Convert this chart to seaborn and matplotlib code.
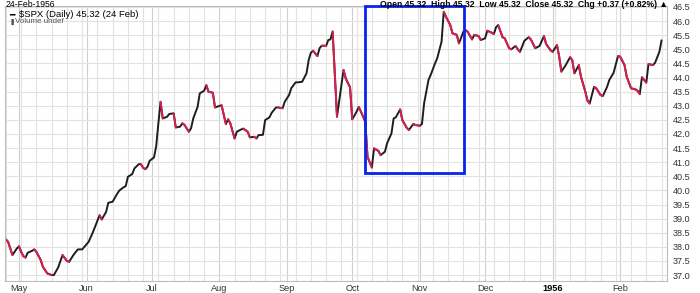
import numpy as np
import pandas as pd
import matplotlib
matplotlib.use("Agg")
import matplotlib.pyplot as plt
import matplotlib.dates as mdates
from matplotlib.patches import Rectangle
import seaborn as sns

# ---------------- data ----------------
dates = [
    "1955-04-25", "1955-04-26", "1955-04-28", "1955-04-30", "1955-05-01", "1955-05-02", "1955-05-03",
    "1955-05-04", "1955-05-05", "1955-05-07", "1955-05-08", "1955-05-09", "1955-05-11", "1955-05-12",
    "1955-05-14", "1955-05-16", "1955-05-17", "1955-05-19", "1955-05-21", "1955-05-23", "1955-05-24",
    "1955-05-26", "1955-05-28", "1955-05-30", "1955-05-31", "1955-06-02", "1955-06-04", "1955-06-07",
    "1955-06-08", "1955-06-10", "1955-06-11", "1955-06-13", "1955-06-15", "1955-06-16", "1955-06-18",
    "1955-06-19", "1955-06-20", "1955-06-22", "1955-06-23", "1955-06-25", "1955-06-26", "1955-06-27",
    "1955-06-28", "1955-06-29", "1955-06-30", "1955-07-02", "1955-07-03", "1955-07-04", "1955-07-05",
    "1955-07-06", "1955-07-08", "1955-07-09", "1955-07-11", "1955-07-12", "1955-07-14", "1955-07-15",
    "1955-07-16", "1955-07-18", "1955-07-19", "1955-07-20", "1955-07-22", "1955-07-23", "1955-07-25",
    "1955-07-26", "1955-07-27", "1955-07-29", "1955-07-30", "1955-08-02", "1955-08-04", "1955-08-05",
    "1955-08-06", "1955-08-08", "1955-08-09", "1955-08-11", "1955-08-12", "1955-08-14", "1955-08-15",
    "1955-08-17", "1955-08-18", "1955-08-19", "1955-08-21", "1955-08-22", "1955-08-24", "1955-08-25",
    "1955-08-27", "1955-08-28", "1955-08-30", "1955-08-31", "1955-09-02", "1955-09-03", "1955-09-05",
    "1955-09-06", "1955-09-08", "1955-09-10", "1955-09-11", "1955-09-12", "1955-09-13", "1955-09-15",
    "1955-09-16", "1955-09-17", "1955-09-19", "1955-09-20", "1955-09-21", "1955-09-22", "1955-09-24",
    "1955-09-27", "1955-09-28", "1955-09-30", "1955-10-01", "1955-10-03", "1955-10-04", "1955-10-05",
    "1955-10-07", "1955-10-08", "1955-10-10", "1955-10-11", "1955-10-13", "1955-10-14", "1955-10-16",
    "1955-10-17", "1955-10-19", "1955-10-20", "1955-10-21", "1955-10-23", "1955-10-24", "1955-10-26",
    "1955-10-27", "1955-10-29", "1955-10-30", "1955-11-01", "1955-11-02", "1955-11-03", "1955-11-05",
    "1955-11-06", "1955-11-08", "1955-11-09", "1955-11-11", "1955-11-12", "1955-11-13", "1955-11-15",
    "1955-11-16", "1955-11-18", "1955-11-19", "1955-11-21", "1955-11-22", "1955-11-23", "1955-11-25",
    "1955-11-26", "1955-11-28", "1955-11-29", "1955-12-01", "1955-12-02", "1955-12-04", "1955-12-05",
    "1955-12-06", "1955-12-07", "1955-12-09", "1955-12-10", "1955-12-12", "1955-12-13", "1955-12-15",
    "1955-12-16", "1955-12-17", "1955-12-19", "1955-12-21", "1955-12-22", "1955-12-24", "1955-12-26",
    "1955-12-28", "1955-12-29", "1955-12-31", "1956-01-01", "1956-01-03", "1956-01-04", "1956-01-05",
    "1956-01-07", "1956-01-09", "1956-01-10", "1956-01-11", "1956-01-13", "1956-01-14", "1956-01-16",
    "1956-01-17", "1956-01-18", "1956-01-20", "1956-01-21", "1956-01-23", "1956-01-24", "1956-01-26",
    "1956-01-27", "1956-01-29", "1956-01-31", "1956-02-01", "1956-02-03", "1956-02-04", "1956-02-06",
    "1956-02-08", "1956-02-09", "1956-02-10", "1956-02-11", "1956-02-13", "1956-02-14", "1956-02-16",
    "1956-02-17", "1956-02-19", "1956-02-20",
]
closes = [
    38.26, 38.18, 37.71, 37.94, 38.02, 37.82, 37.67,
    37.62, 37.79, 37.86, 37.91, 37.82, 37.53, 37.29,
    37.06, 37.00, 37.00, 37.27, 37.71, 37.50, 37.47,
    37.71, 37.91, 37.91, 38.00, 38.18, 38.53, 39.12,
    38.97, 39.24, 39.56, 39.60, 39.87, 39.99, 40.11,
    40.15, 40.48, 40.58, 40.78, 40.93, 40.93, 40.80,
    40.75, 40.84, 41.05, 41.17, 41.57, 42.38, 43.14,
    42.55, 42.61, 42.71, 42.73, 42.23, 42.26, 42.38,
    42.32, 42.08, 42.20, 42.55, 42.96, 43.44, 43.53,
    43.73, 43.50, 43.46, 42.94, 43.02, 42.35, 42.52,
    42.38, 41.84, 42.08, 42.16, 42.19, 42.08, 41.88,
    41.90, 41.84, 41.96, 41.97, 42.49, 42.59, 42.75,
    42.94, 42.94, 42.91, 43.14, 43.38, 43.62, 43.83,
    43.83, 43.85, 44.15, 44.62, 44.88, 44.95, 44.76,
    45.04, 45.13, 45.12, 45.33, 45.35, 45.63, 42.61,
    44.27, 43.97, 43.65, 42.52, 42.79, 42.96, 42.79,
    42.43, 41.19, 40.81, 41.49, 41.40, 41.25, 41.37,
    41.67, 42.02, 42.55, 42.59, 42.87, 42.49, 42.22,
    42.14, 42.35, 42.32, 42.29, 42.35, 43.09, 43.91,
    44.09, 44.50, 44.68, 45.27, 46.33, 46.16, 45.86,
    45.57, 45.51, 45.21, 45.62, 45.68, 45.62, 45.35,
    45.51, 45.47, 45.33, 45.39, 45.66, 45.59, 45.54,
    45.78, 45.86, 45.43, 45.39, 45.04, 45.00, 45.12,
    45.00, 44.91, 45.30, 45.43, 45.35, 45.04, 45.12,
    45.47, 45.19, 44.97, 44.91, 45.15, 44.74, 44.21,
    44.44, 44.72, 44.62, 44.15, 44.44, 44.03, 43.50,
    43.18, 43.08, 43.67, 43.62, 43.38, 43.34, 43.67,
    43.91, 44.17, 44.76, 44.74, 44.44, 44.03, 43.62,
    43.58, 43.53, 43.41, 44.01, 43.82, 44.48, 44.44,
    44.52, 44.91, 45.32,
]
month_ticks = ["1955-05-01", "1955-06-01", "1955-07-01", "1955-08-01", "1955-09-01",
               "1955-10-01", "1955-11-01", "1955-12-01", "1956-01-01", "1956-02-01"]
month_labels = ["May", "Jun", "Jul", "Aug", "Sep", "Oct", "Nov", "Dec", "1956", "Feb"]
price_ticks = [37.0, 37.5, 38.0, 38.5, 39.0, 39.5, 40.0, 40.5, 41.0, 41.5,
               42.0, 42.5, 43.0, 43.5, 44.0, 44.5, 45.0, 45.5, 46.0, 46.5]
box_start, box_end = "1955-10-07", "1955-11-21 12:00"
box_low, box_high = 40.63, 46.52
x_range = ("1955-04-24 14:00", "1956-02-22 12:00")
y_range = (36.79, 46.535)

legend_text = "\\$SPX (Daily) 45.32 (24 Feb)"
volume_text = "Volume undef"
header_left = "24-Feb-1956"
header_right = "Open 45.32  High 45.32  Low 45.32  Close 45.32  Chg +0.37 (+0.82%) \u25B2"

# ---------------- styling ----------------
sns.set_style("white")
plt.rcParams["font.family"] = ["Liberation Sans", "DejaVu Sans"]

RED = "#d81f4f"
BLACK = "#1e1e1e"
BLUE = "#0a22f0"
GRID = "#e2e2e2"
GRID_M = "#cfcfcf"
TXT = "#333333"

df = pd.DataFrame({"date": pd.to_datetime(dates), "close": closes})
down = np.where(df["close"].diff() < 0)[0]
rows = []
for i in down:
    rows.append({"date": df["date"].iloc[i - 1], "close": df["close"].iloc[i - 1], "seg": int(i)})
    rows.append({"date": df["date"].iloc[i], "close": df["close"].iloc[i], "seg": int(i)})
seg_df = pd.DataFrame(rows)

fig = plt.figure(figsize=(7.0, 2.93), dpi=100)
ax = fig.add_axes([5 / 700, 1 - 281 / 293, 662 / 700, 275 / 293])

sns.lineplot(data=df, x="date", y="close", color=BLACK, lw=1.4, ax=ax,
             estimator=None, sort=False, solid_capstyle="round", solid_joinstyle="round")
sns.lineplot(data=seg_df, x="date", y="close", units="seg", estimator=None, sort=False,
             color=RED, lw=1.4, ax=ax, solid_capstyle="round")

ax.set_xlim(pd.Timestamp(x_range[0]), pd.Timestamp(x_range[1]))
ax.set_ylim(*y_range)

# grid
ax.set_xticks(pd.to_datetime(month_ticks))
ax.set_xticklabels(month_labels)
ax.xaxis.set_minor_locator(mdates.WeekdayLocator(byweekday=mdates.MO))
ax.set_yticks(price_ticks)
ax.set_yticklabels([f"{v:.1f}" for v in price_ticks])
ax.yaxis.tick_right()
ax.grid(True, which="major", axis="y", color=GRID, lw=0.8)
ax.grid(True, which="minor", axis="x", color=GRID, lw=0.8)
ax.grid(True, which="major", axis="x", color=GRID_M, lw=0.8)
ax.set_axisbelow(True)

ax.tick_params(axis="x", which="major", length=0, pad=2, labelsize=6.6, labelcolor=TXT)
ax.tick_params(axis="x", which="minor", length=2, color="#bbbbbb")
ax.tick_params(axis="y", which="major", length=0, pad=4, labelsize=6.6, labelcolor=TXT)
for lab in ax.get_xticklabels():
    if lab.get_text() == "1956":
        lab.set_fontweight("bold")
        lab.set_color("black")

for s in ax.spines.values():
    s.set_color("#bdbdbd")
    s.set_linewidth(0.8)
ax.set_xlabel("")
ax.set_ylabel("")

# highlight box
x0 = mdates.date2num(pd.Timestamp(box_start))
x1 = mdates.date2num(pd.Timestamp(box_end))
ax.add_patch(Rectangle((x0, box_low), x1 - x0, box_high - box_low, fill=False,
                       edgecolor=BLUE, lw=2.0, zorder=5, clip_on=False))

# legend-like text
ax.text(0.006, 0.982, "\u2501", transform=ax.transAxes, fontsize=6.5, color="black",
        va="top", ha="left", family="DejaVu Sans")
ax.text(0.021, 0.985, legend_text, transform=ax.transAxes, fontsize=6.8, color="black",
        va="top", ha="left")
ax.text(0.006, 0.952, "\u2590", transform=ax.transAxes, fontsize=4.5, color="#555555",
        va="top", ha="left", family="DejaVu Sans")
ax.text(0.015, 0.955, volume_text, transform=ax.transAxes, fontsize=5.8, color="#555555",
        va="top", ha="left")

# header line at the very top of the picture
fig.text(6 / 700, 0.999, header_left, fontsize=6.2, color="black", va="top", ha="left")
fig.text(668 / 700, 0.999, header_right, fontsize=6.2, color="black", va="top", ha="right",
         fontweight="bold")

fig.savefig("out.png", dpi=100)
